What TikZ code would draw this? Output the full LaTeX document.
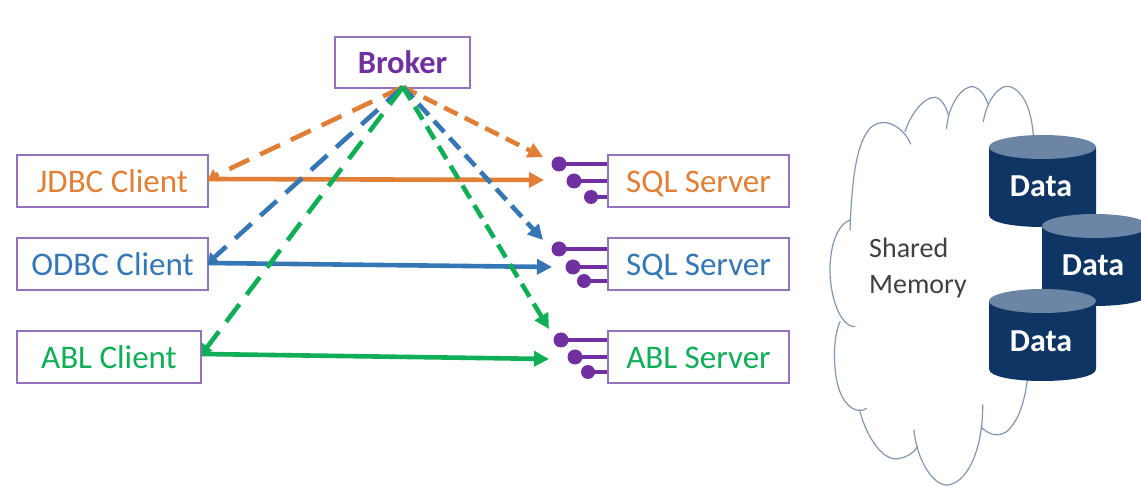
\documentclass[tikz,border=0pt]{standalone}
\usepackage{fontspec}
\setmainfont{Carlito}
\usetikzlibrary{arrows.meta}
\definecolor{cborder}{HTML}{9273BC}
\definecolor{cpurple}{HTML}{7030A0}
\definecolor{corange}{HTML}{E07F35}
\definecolor{cblue}{HTML}{3577B5}
\definecolor{cgreen}{HTML}{10AE56}
\definecolor{ccloud}{HTML}{8497B0}
\definecolor{cnavy}{HTML}{0F3564}
\definecolor{ctop}{HTML}{6C85A5}
\tikzset{
  box/.style={draw=cborder,line width=1.6pt,fill=white,inner sep=0pt,text height=28pt,text depth=5pt,font=\fontsize{33}{35}\selectfont},
  portline/.style={cpurple,line width=4.6pt},
  portdot/.style={circle,fill=cpurple,inner sep=0pt},
  solidarrow/.style={line width=4.6pt,-{Triangle[length=15pt,width=15pt]}},
  longdash/.style={line width=4.6pt,dash pattern=on 22pt off 12pt,-{Triangle[length=9pt,width=13pt]}},
  shortdash/.style={line width=4.6pt,dash pattern=on 15pt off 8pt,-{Triangle[length=15pt,width=15pt]}},
  cloudline/.style={ccloud,line width=1.2pt,line cap=round},
  label/.style={font=\fontsize{28}{35.5}\selectfont,text=black!75,align=left,inner sep=0pt},
  datalabel/.style={font=\bfseries\fontsize{32}{34}\selectfont,text=white,inner sep=0pt}
}
\newcommand{\cyl}[4]{% left, right, top centre y, bottom centre y
  \fill[cnavy] (#1,#3) -- (#1,#4) .. controls (#1,{#4+16}) and (#2,{#4+16}) .. (#2,#4) -- (#2,#3) -- cycle;
  \fill[ctop] ({(#1+#2)/2},#3) ellipse ({(#2-#1)/2} and 12);
}
\begin{document}
\begin{tikzpicture}[x=1pt,y=-1pt]
\clip (0,0) rectangle (1141,502);
\fill[white] (0,0) rectangle (1141,502);

% boxes
\node[box,text=cpurple,minimum width=135pt,minimum height=51pt,font=\bfseries\fontsize{32.5}{34}\selectfont] (broker) at (402.5,62.5) {Broker};
\node[box,text=corange,minimum width=191pt,minimum height=52pt] (jdbc) at (112.5,181) {JDBC Client};
\node[box,text=cblue,minimum width=191pt,minimum height=52pt] (odbc) at (112.5,264) {ODBC Client};
\node[box,text=cgreen,minimum width=184pt,minimum height=52pt] (abl) at (109,357) {ABL Client};
\node[box,text=corange,minimum width=181pt,minimum height=52pt] (sql1) at (698.5,181) {SQL Server};
\node[box,text=cblue,minimum width=181pt,minimum height=52pt] (sql2) at (698.5,264) {SQL Server};
\node[box,text=cgreen,minimum width=181pt,minimum height=52pt] (ablsrv) at (698.5,357) {ABL Server};

% ports
\foreach \n/\s/\xa/\ya/\xb/\yb/\xc/\yc in {a/sql1/559/164/574/181/591/197,b/sql2/559/249/573/267/584/281,c/ablsrv/561/340/575/357/588/372}{
  \node[portdot,minimum size=15pt] (\n1) at (\xa,\ya) {};
  \node[portdot,minimum size=15pt] (\n2) at (\xb,\yb) {};
  \node[portdot,minimum size=14pt] (\n3) at (\xc,\yc) {};
  \draw[portline] (\n1.center) -- (\n1.center -| \s.west);
  \draw[portline] (\n2.center) -- (\n2.center -| \s.west);
  \draw[portline] (\n3.center) -- (\n3.center -| \s.west);
}

% connector ends
\coordinate (apex) at (403,87);
\coordinate (jl) at (208,179);
\coordinate (ol) at (208,263);
\coordinate (al) at (202,354);
\coordinate (jr) at (544,180);
\coordinate (or) at (552,267);
\coordinate (ar) at (549,359);
\coordinate (jd) at (543,157);
\coordinate (od) at (543,240);
\coordinate (ad) at (549,329);

\draw[solidarrow,corange] (jl) -- (jr);
\draw[solidarrow,cblue] (ol) -- (or);
\draw[solidarrow,cgreen] (al) -- (ar);
\draw[longdash,corange] (apex) -- (jl);
\draw[shortdash,corange] (apex) -- (jd);
\draw[longdash,cblue] (apex) -- (ol);
\draw[shortdash,cblue] (apex) -- (od);
\draw[longdash,cgreen] (apex) -- (al);
\draw[shortdash,cgreen] (apex) -- (ad);

% cloud
\begin{scope}[shift={(820,70)},x=0.3333pt,y=-0.3333pt]
\draw[cloudline] (490,155) .. controls (500,90) and (540,40) .. (570,50) .. controls (615,65) and (635,130) .. (640,195);
\draw[cloudline] (380,175) .. controls (385,100) and (430,45) .. (460,50) .. controls (480,55) and (495,75) .. (505,105);
\draw[cloudline] (255,185) .. controls (280,110) and (330,70) .. (355,85) .. controls (370,95) and (380,115) .. (385,135);
\draw[cloudline] (272,222) .. controls (250,170) and (190,135) .. (150,175) .. controls (105,225) and (95,350) .. (90,480);
\draw[cloudline] (90,450) .. controls (50,465) and (30,530) .. (30,600) .. controls (30,680) and (60,770) .. (105,770);
\draw[cloudline] (60,755) .. controls (40,800) and (40,880) .. (50,930) .. controls (60,990) and (100,1040) .. (140,1015);
\draw[cloudline] (120,1025) .. controls (140,1100) and (190,1180) .. (240,1165) .. controls (265,1160) and (285,1145) .. (292,1130);
\draw[cloudline] (282,1080) .. controls (290,1170) and (340,1250) .. (385,1245) .. controls (450,1235) and (490,1120) .. (488,1005);
\draw[cloudline] (483,1070) .. controls (500,1090) and (530,1105) .. (560,1085) .. controls (600,1050) and (615,985) .. (622,930);
\end{scope}
\node[label,anchor=north west] (shared) at (869,238) {Shared\\Memory};

% cylinders
\cyl{989}{1096}{147}{215}
\node[datalabel] (d1) at (1041,186) {Data};
\cyl{1042}{1148}{226}{294}
\node[datalabel] (d2) at (1093,265) {Data};
\cyl{989}{1096}{301}{369}
\node[datalabel] (d3) at (1041,341) {Data};
\end{tikzpicture}
\end{document}
